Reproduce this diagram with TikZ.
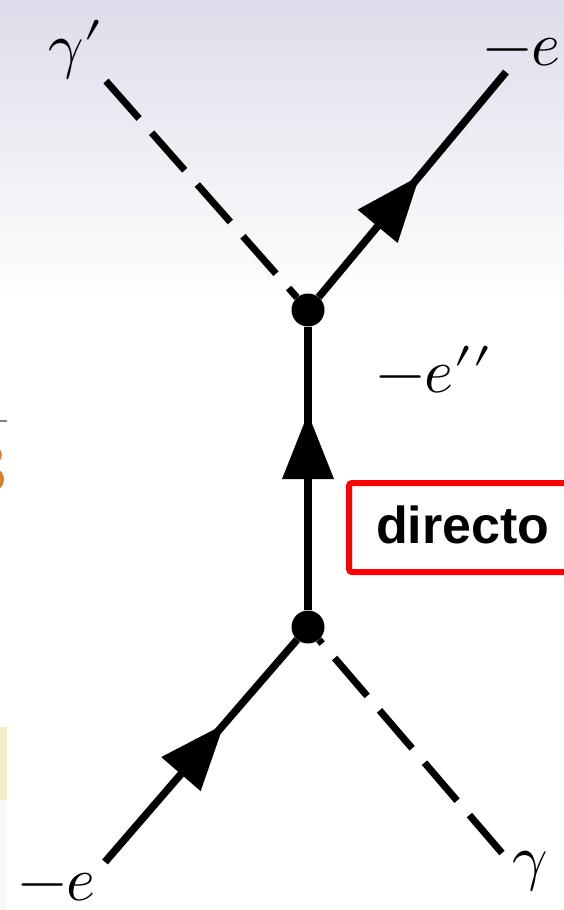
\documentclass[tikz,border=0pt]{standalone}
\usepackage{unicode-math}
\newfontfamily\boxfont{Liberation Sans}
\usetikzlibrary{arrows.meta,decorations.markings}
\definecolor{bgtop}{RGB}{220,221,234}
\definecolor{padyellow}{RGB}{247,237,199}
\definecolor{digitorange}{RGB}{212,128,42}

\begin{document}
\begin{tikzpicture}[x=1pt, y=-1pt,
    fermion/.style={line width=7.5pt, postaction={decorate},
        decoration={markings, mark=at position #1 with {\arrow{Triangle[length=66pt,width=50pt]}}}},
    photon/.style={line width=7pt, dash pattern=on 50pt off 19pt},
    vertex/.style={circle, fill=black, inner sep=0pt, minimum size=33pt},
    lbl/.style={inner sep=0pt, anchor=base west, font=\fontsize{62}{62}\selectfont}]
    \useasboundingbox (0,0) rectangle (564,910);

    % background of the slide
    \fill[white] (0,0) rectangle (564,910);
    \shade[top color=bgtop, bottom color=white] (0,0) rectangle (564,300);
    \draw[gray, line width=2.5pt] (0,421) -- (7,421);
    \node[inner sep=0pt, anchor=base east, text=digitorange] (digit) at (8,492)
        {\fontsize{72}{72}\selectfont\bfseries 3};
    \fill[padyellow] (0,727) rectangle (7,800);
    \fill[black!3] (0,800) rectangle (7,910);

    % vertices and free ends
    \node[vertex] (vtop) at (308,310) {};
    \node[vertex] (vbot) at (308,627) {};
    \coordinate (eout) at (506,72);
    \coordinate (gout) at (106,81);
    \coordinate (ein) at (105,862);
    \coordinate (gin) at (502,853);

    % electron lines
    \draw[fermion=0.62] (ein) -- (vbot);
    \draw[fermion=0.695] (vbot) -- (vtop);
    \draw[fermion=0.54] (vtop) -- (eout);

    % photon lines
    \draw[photon] (gout) -- (vtop);
    \draw[photon] (gin) -- (vbot);

    % labels
    \node[lbl] (lgout) at (48,66) {$\gamma\prime$};
    \node[lbl] (leout) at (483,65) {$-e\prime$};
    \node[lbl] (lemid) at (376,392) {$-e\prime\prime$};
    \node[lbl] (lein) at (18,900) {$-e$};
    \node[lbl] (lgin) at (512,878) {$\gamma$};

    % box
    \draw[red, line width=6pt, rounded corners=3pt] (349,483) rectangle (610,572);
    \node[inner sep=0pt, anchor=base west, font=\boxfont\bfseries\fontsize{52}{52}\selectfont] (direct) at (376,543) {directo};
\end{tikzpicture}
\end{document}
